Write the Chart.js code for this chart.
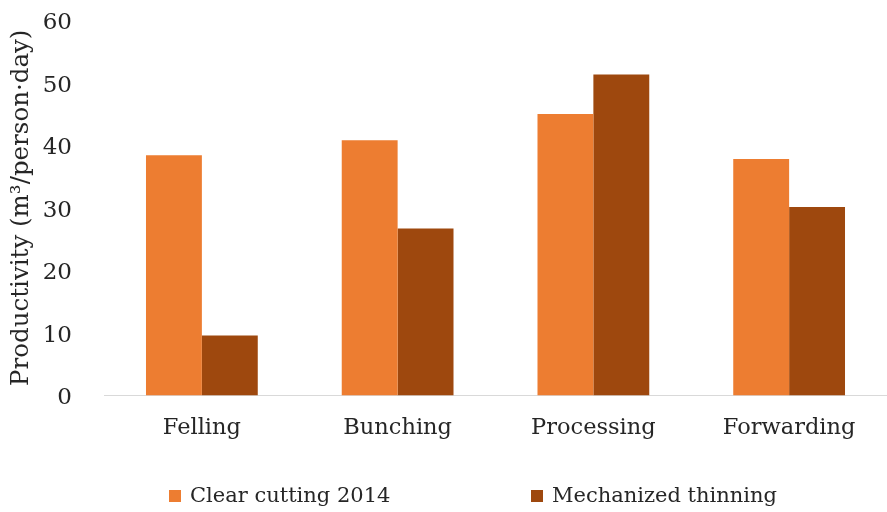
<!DOCTYPE html>
<html>
<head>
<meta charset="utf-8">
<script src="https://cdn.jsdelivr.net/npm/chart.js@4"></script>
<style>
  html, body { margin: 0; padding: 0; background: #fff; }
  #wrap { position: relative; width: 887px; height: 512px; }
  .legend-item { position: absolute; top: 483px; font: 21px "DejaVu Serif", serif; color: #262626; white-space: nowrap; line-height: 24px; }
  .legend-box { display: inline-block; width: 12px; height: 12px; margin-right: 9px; vertical-align: 0px; }
</style>
</head>
<body>
<div id="wrap">
  <canvas id="chart" width="887" height="512"></canvas>
  <div id="legend"></div>
</div>
<script>
// Chart data
const categories = ["Felling", "Bunching", "Processing", "Forwarding"];
const clearCutting = [38.4, 40.8, 45.0, 37.8];
const mechanizedThinning = [9.6, 26.7, 51.3, 30.1];
const seriesNames = ["Clear cutting 2014", "Mechanized thinning"];
const seriesColors = ["#ED7D31", "#9E480E"];
const yTicks = [0, 10, 20, 30, 40, 50, 60];

const textColor = "#262626";
const fontFamily = "'DejaVu Serif', serif";

const ctx = document.getElementById("chart").getContext("2d");

const chart = new Chart(ctx, {
    type: "bar",
    data: {
        labels: categories,
        datasets: [
            { label: seriesNames[0], data: clearCutting, backgroundColor: seriesColors[0] },
            { label: seriesNames[1], data: mechanizedThinning, backgroundColor: seriesColors[1] }
        ]
    },
    options: {
        responsive: false,
        animation: false,
        categoryPercentage: 0.571,
        barPercentage: 1.0,
        layout: { padding: { top: 20, right: -9, bottom: 0, left: 0 } },
        plugins: {
            legend: { display: false },
            tooltip: { enabled: false }
        },
        scales: {
            x: {
                grid: { display: false, drawTicks: false },
                border: { display: true, color: "#d9d9d9", width: 1 },
                ticks: { color: textColor, font: { family: fontFamily, size: 22.5 }, padding: 19 },
                afterFit: s => { s.height = 116.5; }
            },
            y: {
                min: 0,
                max: 60,
                afterBuildTicks: s => { s.ticks = yTicks.map(v => ({ value: v })); },
                grid: { display: false, drawTicks: false },
                border: { display: false },
                ticks: { color: textColor, font: { family: fontFamily, size: 23 }, padding: 32, labelOffset: 3 },
                title: {
                    display: true,
                    text: "Productivity (m³/person·day)",
                    color: textColor,
                    font: { family: fontFamily, size: 24.5 },
                    padding: { top: 7, bottom: 0 }
                },
                // fixed width, and don't let the tick padding push the plot down
                afterFit: s => { s.width = 104; s.paddingTop = 0; s.paddingBottom = 0; }
            }
        }
    }
});

// Simple HTML legend below the plot
const legendLefts = [169, 531];
const legend = document.getElementById("legend");
chart.data.datasets.forEach((ds, i) => {
    const item = document.createElement("div");
    item.className = "legend-item";
    item.style.left = legendLefts[i] + "px";
    item.innerHTML = `<span class="legend-box" style="background:${ds.backgroundColor}"></span>${ds.label}`;
    legend.appendChild(item);
});
</script>
</body>
</html>
